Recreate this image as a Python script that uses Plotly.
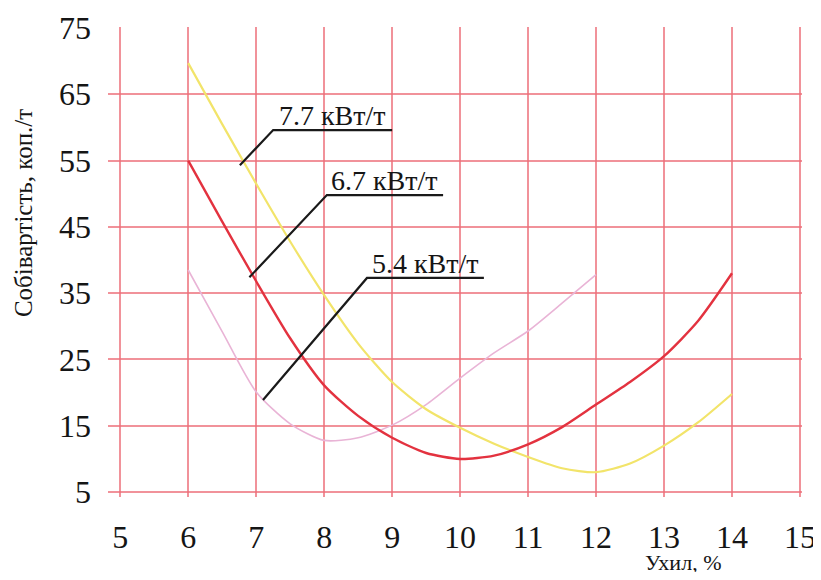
import plotly.graph_objects as go

# Data
x_yellow = [6, 6.5, 7, 7.5, 8, 8.5, 9, 9.5, 10, 10.5, 11, 11.5, 12, 12.5, 13, 13.5, 14]
y_yellow = [69.7, 60.5, 51.5, 42.8, 34.7, 27.4, 21.6, 17.5, 14.7, 12.3, 10.3, 8.6, 8.0, 9.3, 12.0, 15.5, 19.8]

x_red = [6, 6.5, 7, 7.5, 8, 8.5, 9, 9.5, 10, 10.5, 11, 11.5, 12, 12.5, 13, 13.5, 14]
y_red = [55.0, 45.8, 36.8, 28.2, 21.1, 16.5, 13.2, 10.9, 10.0, 10.5, 12.2, 14.8, 18.2, 21.6, 25.5, 30.8, 38.0]

x_pink = [6, 6.5, 7, 7.5, 8, 8.5, 9, 9.5, 10, 10.5, 11, 11.5, 12]
y_pink = [38.5, 29.2, 20.1, 15.3, 12.8, 13.2, 15.1, 18.2, 22.2, 26.0, 29.3, 33.5, 37.8]

# Leader lines for labels (data coordinates)
lead_77_x = [6.76, 7.25, 9.0]
lead_77_y = [54.3, 59.6, 59.6]
lead_67_x = [6.9, 8.04, 9.75]
lead_67_y = [37.4, 49.8, 49.8]
lead_54_x = [7.1, 8.63, 10.35]
lead_54_y = [18.9, 37.3, 37.3]

labels = ["7.7 кВт/т", "6.7 кВт/т", "5.4 кВт/т"]

x_ticks = [5, 6, 7, 8, 9, 10, 11, 12, 13, 14, 15]
y_ticks = [5, 15, 25, 35, 45, 55, 65, 75]

grid_col = "rgba(236,110,120,0.75)"
font_fam = "Liberation Serif"
ink = "#151515"

fig = go.Figure()
fig.add_trace(go.Scatter(x=x_pink, y=y_pink, mode="lines",
                         line=dict(color="#e9b4d6", width=1.6, shape="spline", smoothing=0.7)))
fig.add_trace(go.Scatter(x=x_yellow, y=y_yellow, mode="lines",
                         line=dict(color="#f2e46a", width=2.2, shape="spline", smoothing=0.7)))
fig.add_trace(go.Scatter(x=x_red, y=y_red, mode="lines",
                         line=dict(color="#e3323f", width=2.4, shape="spline", smoothing=0.7)))

for lx, ly in [(lead_77_x, lead_77_y), (lead_67_x, lead_67_y), (lead_54_x, lead_54_y)]:
    fig.add_trace(go.Scatter(x=lx, y=ly, mode="lines",
                             line=dict(color="#1a1a1a", width=2.2)))

for lx, ly, txt in [(lead_77_x, lead_77_y, labels[0]),
                    (lead_67_x, lead_67_y, labels[1]),
                    (lead_54_x, lead_54_y, labels[2])]:
    fig.add_annotation(x=(lx[1] + lx[2]) / 2, y=ly[1], text=txt, showarrow=False,
                       xanchor="center", yanchor="bottom", yshift=-3,
                       font=dict(family=font_fam, size=28, color=ink))

fig.add_annotation(x=13.28, xref="x", y=-0.108, yref="paper", text="Ухил, %",
                   showarrow=False, xanchor="center", yanchor="top",
                   font=dict(family=font_fam, size=22, color=ink))

fig.add_annotation(x=-0.1225, xref="paper", y=0.604, yref="paper",
                   text="Собівартість, коп./т", textangle=-90,
                   showarrow=False, xanchor="center", yanchor="middle",
                   font=dict(family=font_fam, size=25, color=ink))

# The page body has an 8px default margin; the figure is sized so that it
# fits inside the 821x580 window without scrollbars.
fig.update_layout(
    width=813, height=564,
    margin=dict(l=100, r=19, t=19, b=75),
    paper_bgcolor="white", plot_bgcolor="white",
    showlegend=False,
    font=dict(family=font_fam, color=ink),
)

fig.update_xaxes(range=[4.82, 15.03], tickvals=x_ticks, ticktext=[str(v) for v in x_ticks],
                 showgrid=True, gridcolor=grid_col, gridwidth=1.5,
                 zeroline=False, showline=False, ticks="", automargin=False,
                 tickfont=dict(family=font_fam, size=32, color=ink),
                 ticklabelstandoff=18)
fig.update_yaxes(range=[4.26, 75.15], tickvals=y_ticks, ticktext=[str(v) for v in y_ticks],
                 showgrid=True, gridcolor=grid_col, gridwidth=1.5,
                 zeroline=False, showline=False, ticks="", automargin=False,
                 tickfont=dict(family=font_fam, size=32, color=ink),
                 ticklabelstandoff=16)

fig.write_html("out.html")
